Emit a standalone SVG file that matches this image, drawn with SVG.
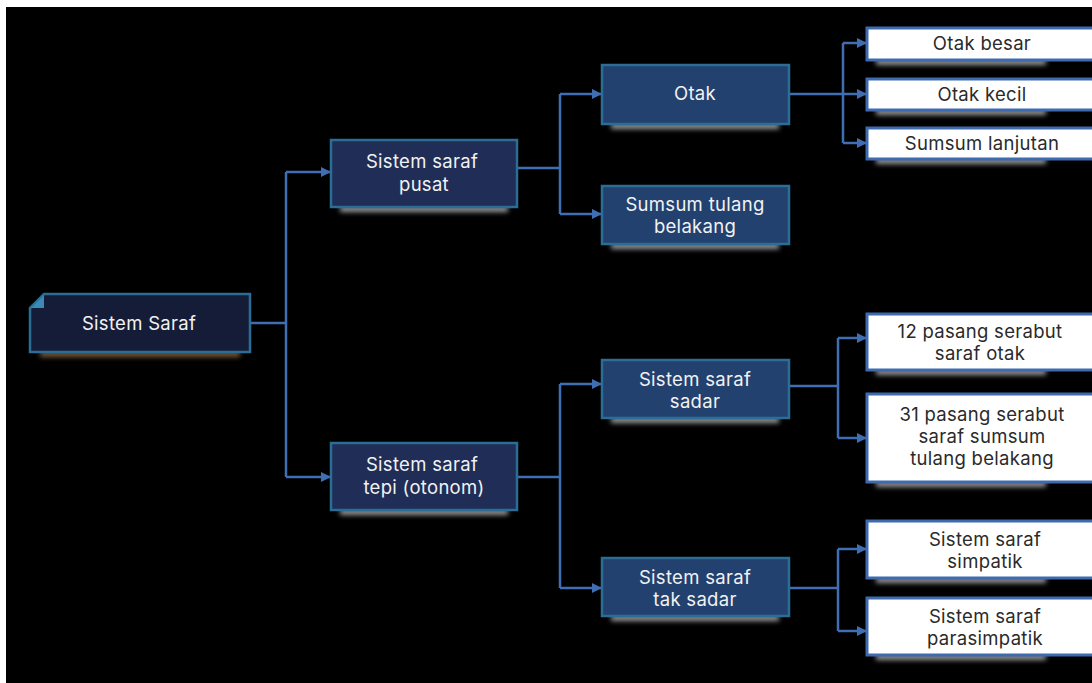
<svg xmlns="http://www.w3.org/2000/svg" width="1092" height="683" viewBox="0 0 1092 683">
<defs>
<filter id="blur" x="-10%" y="-100%" width="120%" height="300%"><feGaussianBlur stdDeviation="2.5"/></filter>
<marker id="arr" markerWidth="10" markerHeight="10" refX="9" refY="5" orient="auto" markerUnits="userSpaceOnUse"><path d="M0,0 L10,5 L0,10 Z" fill="#3f6fb2"/></marker>
<style>
.d1{fill:#151c38;stroke:#2b6d94;stroke-width:2.5}
.d2{fill:#1f2d57;stroke:#2b6d94;stroke-width:2.5}
.d3{fill:#22416f;stroke:#2b6d94;stroke-width:2.5}
.w{fill:#ffffff;stroke:#3e6bb0;stroke-width:3}
.sh{fill:#9a9a9a;filter:url(#blur)}
.tl{font-family:Inter,"Noto Sans","Liberation Sans",sans-serif;font-size:18.5px;letter-spacing:0.3px;fill:#f2f2f2;text-anchor:middle}
.td{font-family:Inter,"Noto Sans","Liberation Sans",sans-serif;font-size:18.5px;letter-spacing:0.3px;fill:#2a2a2a;text-anchor:middle}
.c{fill:none;stroke:#3f6fb2;stroke-width:2.5}
</style>
</defs>
<rect x="0" y="0" width="1092" height="683" fill="#ffffff"/>
<rect x="6" y="7" width="1086" height="676" fill="#000000"/>

<g id="connectors">
<path class="c" d="M250,323 H286 M286,172 V477"/>
<path class="c" d="M286,172 H330" marker-end="url(#arr)"/>
<path class="c" d="M286,477 H330" marker-end="url(#arr)"/>
<path class="c" d="M517,168 H560 M560,94 V214"/>
<path class="c" d="M560,94 H601" marker-end="url(#arr)"/>
<path class="c" d="M560,214 H601" marker-end="url(#arr)"/>
<path class="c" d="M789,94 H843 M843,43 V143"/>
<path class="c" d="M843,43 H866" marker-end="url(#arr)"/>
<path class="c" d="M843,94 H866" marker-end="url(#arr)"/>
<path class="c" d="M843,143 H866" marker-end="url(#arr)"/>
<path class="c" d="M517,477 H560 M560,384 V588"/>
<path class="c" d="M560,384 H601" marker-end="url(#arr)"/>
<path class="c" d="M560,588 H601" marker-end="url(#arr)"/>
<path class="c" d="M789,386 H838 M838,338 V438"/>
<path class="c" d="M838,338 H866" marker-end="url(#arr)"/>
<path class="c" d="M838,438 H866" marker-end="url(#arr)"/>
<path class="c" d="M789,588 H838 M838,549 V631"/>
<path class="c" d="M838,549 H866" marker-end="url(#arr)"/>
<path class="c" d="M838,631 H866" marker-end="url(#arr)"/>
</g>

<g id="root">
<rect x="40" y="351" width="200" height="6" fill="#7a5a3a" filter="url(#blur)"/>
<path class="d1" d="M44,294 H250 V352 H30 V308 Z"/>
<path d="M31,308 L44,295 V308 Z" fill="#3a8ab8"/>
<text class="tl" x="139" y="330">Sistem Saraf</text>
</g>

<g id="pusat">
<rect class="sh" x="340" y="206" width="168" height="6"/>
<rect class="d2" x="331" y="140" width="186" height="67"/>
<text class="tl" x="422" y="168">Sistem saraf</text>
<text class="tl" x="424" y="191">pusat</text>
</g>

<g id="tepi">
<rect class="sh" x="340" y="509" width="168" height="6"/>
<rect class="d2" x="331" y="443" width="186" height="67"/>
<text class="tl" x="422" y="471">Sistem saraf</text>
<text class="tl" x="424" y="494">tepi (otonom)</text>
</g>

<g id="otak">
<rect class="sh" x="611" y="123" width="168" height="6"/>
<rect class="d3" x="602" y="65" width="187" height="59"/>
<text class="tl" x="695" y="100">Otak</text>
</g>

<g id="sumsum">
<rect class="sh" x="611" y="243" width="168" height="6"/>
<rect class="d3" x="602" y="186" width="187" height="58"/>
<text class="tl" x="695" y="211">Sumsum tulang</text>
<text class="tl" x="695" y="233">belakang</text>
</g>

<g id="sadar">
<rect class="sh" x="611" y="417" width="168" height="6"/>
<rect class="d3" x="602" y="360" width="187" height="58"/>
<text class="tl" x="695" y="386">Sistem saraf</text>
<text class="tl" x="695" y="408">sadar</text>
</g>

<g id="taksadar">
<rect class="sh" x="611" y="615" width="168" height="6"/>
<rect class="d3" x="602" y="558" width="187" height="58"/>
<text class="tl" x="695" y="584">Sistem saraf</text>
<text class="tl" x="695" y="606">tak sadar</text>
</g>

<g id="otakbesar">
<rect class="sh" x="876" y="59" width="170" height="6"/>
<rect class="w" x="867" y="28" width="230" height="32"/>
<text class="td" x="982" y="50">Otak besar</text>
</g>

<g id="otakkecil">
<rect class="sh" x="876" y="109" width="170" height="6"/>
<rect class="w" x="867" y="79" width="230" height="31"/>
<text class="td" x="982" y="101">Otak kecil</text>
</g>

<g id="lanjutan">
<rect class="sh" x="876" y="158" width="170" height="6"/>
<rect class="w" x="867" y="128" width="230" height="31"/>
<text class="td" x="982" y="150">Sumsum lanjutan</text>
</g>

<g id="pasang12">
<rect class="sh" x="876" y="369" width="170" height="6"/>
<rect class="w" x="867" y="314" width="230" height="56"/>
<text class="td" x="980" y="338">12 pasang serabut</text>
<text class="td" x="980" y="360">saraf otak</text>
</g>

<g id="pasang31">
<rect class="sh" x="876" y="481" width="170" height="6"/>
<rect class="w" x="867" y="394" width="230" height="88"/>
<text class="td" x="982" y="421">31 pasang serabut</text>
<text class="td" x="982" y="443">saraf sumsum</text>
<text class="td" x="982" y="465">tulang belakang</text>
</g>

<g id="simpatik">
<rect class="sh" x="876" y="577" width="170" height="6"/>
<rect class="w" x="867" y="521" width="230" height="57"/>
<text class="td" x="985" y="546">Sistem saraf</text>
<text class="td" x="985" y="568">simpatik</text>
</g>

<g id="parasimpatik">
<rect class="sh" x="876" y="654" width="170" height="6"/>
<rect class="w" x="867" y="598" width="230" height="57"/>
<text class="td" x="985" y="623">Sistem saraf</text>
<text class="td" x="985" y="645">parasimpatik</text>
</g>
</svg>
